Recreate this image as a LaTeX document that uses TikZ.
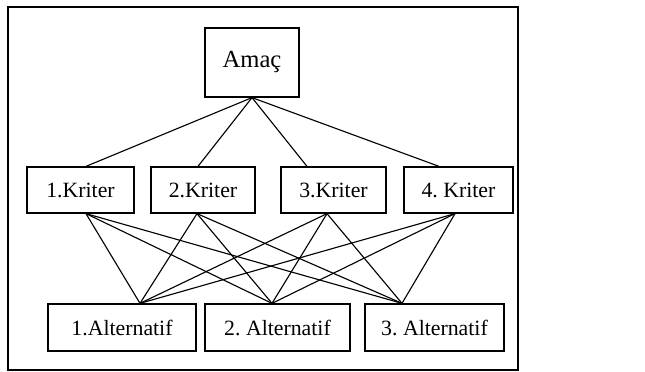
\documentclass[tikz,border=0pt]{standalone}
\usepackage{fontspec}
\setmainfont{Liberation Serif}
\usetikzlibrary{calc}
\frenchspacing

\begin{document}
\begin{tikzpicture}[
    x=0.025cm, y=-0.025cm,
    box/.style={rectangle, draw, line width=0.9pt, inner sep=0pt, align=center},
    goalbox/.style={box, minimum width=2.35cm, minimum height=1.725cm, font=\fontsize{17.5}{20}\selectfont},
    critbox/.style={box, minimum height=1.15cm, font=\fontsize{15.5}{18}\selectfont},
    altbox/.style={box, minimum height=1.175cm, font=\fontsize{15.5}{18}\selectfont},
    link/.style={line width=0.8pt},
]
\useasboundingbox (0,0) rectangle (645,372);

% Outer frame
\draw[line width=1.5pt] (8,7) rectangle (518,370);

% Goal
\node[goalbox] (goal) at (252,62.5) {Amaç};

% Criteria
\node[critbox, minimum width=2.675cm] (k1) at (80.5,190) {1.Kriter};
\node[critbox, minimum width=2.6cm] (k2) at (203,190) {2.Kriter};
\node[critbox, minimum width=2.625cm] (k3) at (333.5,190) {3.Kriter};
\node[critbox, minimum width=2.725cm] (k4) at (458.5,190) {4. Kriter};

% Alternatives
\node[altbox, minimum width=3.7cm] (a1) at (122,327.5) {1.Alternatif};
\node[altbox, minimum width=3.625cm] (a2) at (277.5,327.5) {2. Alternatif};
\node[altbox, minimum width=3.475cm] (a3) at (434.5,327.5) {3. Alternatif};

% Attachment points
\coordinate (k1t) at ($(k1.north)+(5.5,0)$);
\coordinate (k2t) at ($(k2.north)+(-5,0)$);
\coordinate (k3t) at ($(k3.north)+(-26.5,0)$);
\coordinate (k4t) at ($(k4.north)+(-19.5,0)$);
\coordinate (k1b) at ($(k1.south)+(5.5,0)$);
\coordinate (k2b) at ($(k2.south)+(-6,0)$);
\coordinate (k3b) at ($(k3.south)+(-6.5,0)$);
\coordinate (k4b) at ($(k4.south)+(-3.5,0)$);
\coordinate (a1t) at ($(a1.north)+(18,0)$);
\coordinate (a2t) at ($(a2.north)+(-5.5,0)$);
\coordinate (a3t) at ($(a3.north)+(-32.5,0)$);

% Connections
\foreach \k in {k1t,k2t,k3t,k4t}
    \draw[link] (goal.south) -- (\k);
\foreach \k in {k1b,k2b,k3b,k4b}
    \foreach \a in {a1t,a2t,a3t}
        \draw[link] (\k) -- (\a);

\end{tikzpicture}
\end{document}
